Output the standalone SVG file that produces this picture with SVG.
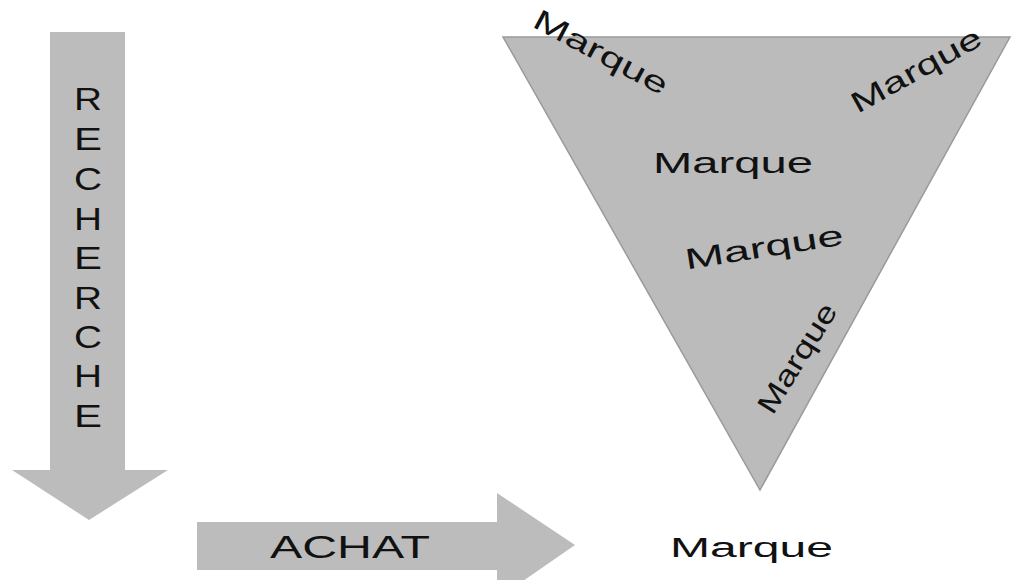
<svg xmlns="http://www.w3.org/2000/svg" width="1021" height="580" viewBox="0 0 1021 580">
<style>
.shape{fill:#bcbcbc;}
.tri{fill:#bbbbbb;stroke:#9a9a9a;stroke-width:1.5;}
.t{font-family:"Liberation Sans",Arial,sans-serif;fill:#111111;}
.m{font-size:29px;text-anchor:middle;}
.v{font-size:31px;text-anchor:middle;}
</style>
<rect width="1021" height="580" fill="#ffffff"/>
<g id="recherche">
<polygon class="shape" points="50,32 125,32 125,470 168,470 89,520 12,470 50,470"/>
<g class="t v">
<text x="88" y="110" textLength="28" lengthAdjust="spacingAndGlyphs">R</text>
<text x="88" y="150" textLength="28" lengthAdjust="spacingAndGlyphs">E</text>
<text x="88" y="190" textLength="28" lengthAdjust="spacingAndGlyphs">C</text>
<text x="88" y="230" textLength="28" lengthAdjust="spacingAndGlyphs">H</text>
<text x="88" y="269" textLength="28" lengthAdjust="spacingAndGlyphs">E</text>
<text x="88" y="309" textLength="28" lengthAdjust="spacingAndGlyphs">R</text>
<text x="88" y="348" textLength="28" lengthAdjust="spacingAndGlyphs">C</text>
<text x="88" y="387" textLength="28" lengthAdjust="spacingAndGlyphs">H</text>
<text x="88" y="427" textLength="28" lengthAdjust="spacingAndGlyphs">E</text>
</g>
</g>
<g id="achat">
<polygon class="shape" points="197,522 497,522 497,493 575,545 497,599 497,570 197,570"/>
<text class="t" x="270" y="558" font-size="32" textLength="160" lengthAdjust="spacingAndGlyphs">ACHAT</text>
</g>
<g id="funnel">
<polygon class="tri" points="503,37 1010,37 760,490"/>
<text class="t m" transform="translate(601,52) rotate(28)" x="0" y="10" textLength="148" lengthAdjust="spacingAndGlyphs">Marque</text>
<text class="t m" transform="translate(916,70) rotate(-29)" x="0" y="10" textLength="145" lengthAdjust="spacingAndGlyphs">Marque</text>
<text class="t" x="653" y="173" font-size="29" textLength="160" lengthAdjust="spacingAndGlyphs">Marque</text>
<text class="t m" transform="translate(764,247) rotate(-9)" x="0" y="10" textLength="160" lengthAdjust="spacingAndGlyphs">Marque</text>
<text class="t m" transform="translate(797,358) rotate(-58)" x="0" y="10" textLength="124" lengthAdjust="spacingAndGlyphs">Marque</text>
</g>
<g id="marque-bottom">
<text class="t" x="670" y="557" font-size="27" textLength="163" lengthAdjust="spacingAndGlyphs">Marque</text>
</g>
</svg>
